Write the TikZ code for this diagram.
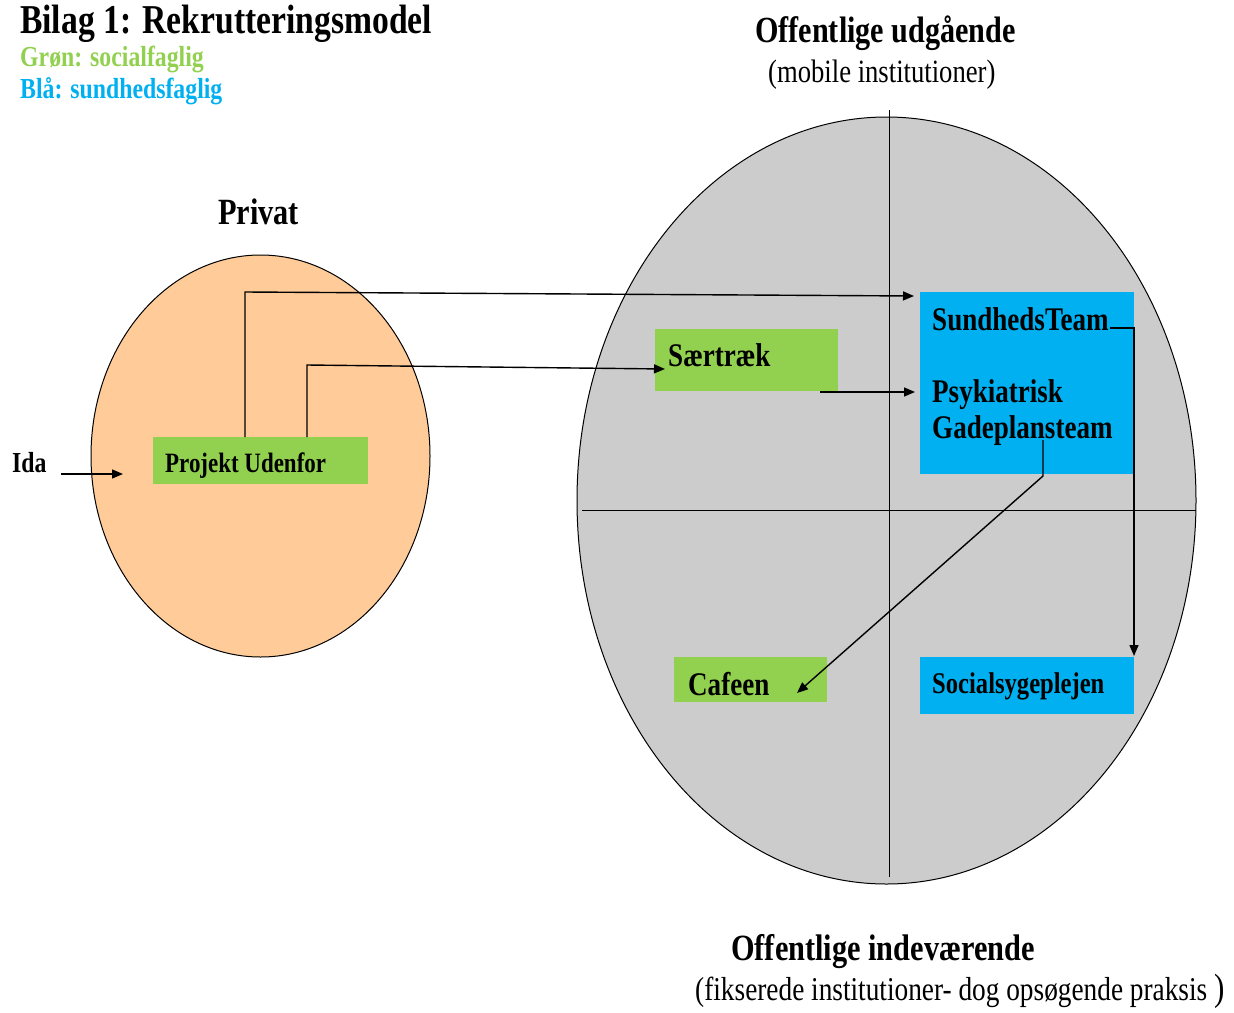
\documentclass[tikz,border=0pt]{standalone}
\usepackage{fontspec}
\setmainfont{Liberation Serif}[FakeStretch=0.82]
\usetikzlibrary{arrows.meta,calc}
\definecolor{grn}{HTML}{92D050}
\definecolor{blu}{HTML}{00B0F0}
\definecolor{org}{HTML}{FFCC99}
\definecolor{gry}{HTML}{CCCCCC}
\tikzset{
  txt/.style={anchor=base west,inner sep=0pt,font=\bfseries\fontsize{#1}{#1}\selectfont},
  rtxt/.style={anchor=base west,inner sep=0pt,font=\fontsize{#1}{#1}\selectfont},
  gbox/.style={fill=grn,draw=none,anchor=north west,inner sep=0pt},
  bbox/.style={fill=blu,draw=none,anchor=north west,inner sep=0pt},
  conn/.style={line width=1.4pt,black},
  arr/.style={conn,-{Triangle[length=11pt,width=9pt]}},
  grid/.style={line width=1pt,black}
}
\begin{document}
\begin{tikzpicture}[x=1pt,y=-1pt]
\useasboundingbox (0,0) rectangle (1234,1012);
% headings
\node[txt=41] (title) at (20,33) {Bilag 1: Rekrutteringsmodel};
\node[txt=29,text=grn] (green) at (20,66) {Grøn: socialfaglig};
\node[txt=29,text=blu] (blue) at (20,98) {Blå: sundhedsfaglig};
\node[txt=36.8] (offu) at (755,42) {Offentlige udgående};
\node[rtxt=32.5] (mob) at (768,82) {(mobile institutioner)};
\node[txt=37] (priv) at (218,224) {Privat};
\node[txt=37] (offi) at (731,960) {Offentlige indeværende};
\node[rtxt=33.3] (fix) at (695,1000) {(fikserede institutioner- dog opsøgende praksis {\fontsize{38}{38}\selectfont)}};
% ellipses
\draw[line width=1pt,fill=org] (260.5,456) ellipse [x radius=169.5,y radius=201];
\draw[line width=1pt,fill=gry] (886.5,500.5) ellipse [x radius=309.5,y radius=383.5];
% quadrant lines
\coordinate (vt) at (889,110);
\coordinate (vb) at (889,877);
\coordinate (hl) at (582,510);
\coordinate (hr) at (1196,510);
\draw[grid] (vt) -- (vb);
\draw[grid] (hl) -- (hr);
% boxes
\node[gbox,minimum width=215,minimum height=47] (pu) at (153,437) {};
\node[gbox,minimum width=183,minimum height=62] (sae) at (655,329) {};
\node[bbox,minimum width=214,minimum height=182] (st) at (920,292) {};
\node[gbox,minimum width=153,minimum height=45] (caf) at (674,657) {};
\node[bbox,minimum width=214,minimum height=57] (ssp) at (920,657) {};
% texts in boxes
\node[txt=28] (putxt) at (165,472) {Projekt Udenfor};
\node[txt=33] (saetxt) at (668,366) {Særtræk};
\node[txt=33] (sttxt) at (932,330) {SundhedsTeam};
\node[txt=33] (psytxt) at (932,402) {Psykiatrisk};
\node[txt=33] (gadtxt) at (932,438) {Gadeplansteam};
\node[txt=33] (caftxt) at (688,695) {Cafeen};
\node[txt=30] (ssptxt) at (932,693) {Socialsygeplejen};
\node[txt=29] (ida) at (12,472) {Ida};
% connectors
\coordinate (idaS) at (61,474);
\coordinate (idaE) at (123,474);
\draw[arr] (idaS) -- (idaE);
\coordinate (p1) at ($(pu.north west)+(92,0)$);
\coordinate (p1b) at (245,292);
\coordinate (p1e) at (914,296);
\draw[arr] (p1) -- (p1b) -- (p1e);
\coordinate (p2) at ($(pu.north west)+(154,0)$);
\coordinate (p2b) at (307,365);
\coordinate (p2e) at (665,369);
\draw[arr] (p2) -- (p2b) -- (p2e);
\coordinate (s1) at (820,392);
\coordinate (s1e) at (915,392);
\draw[arr] (s1) -- (s1e);
\coordinate (t1) at (1110,328);
\coordinate (t1b) at (1134,328);
\coordinate (t1e) at (1134,656);
\draw[arr] (t1) -- (t1b) -- (t1e);
\coordinate (g1) at (1043,440);
\coordinate (g1b) at (1043,476);
\coordinate (g1e) at (797,693);
\draw[arr] (g1) -- (g1b) -- (g1e);
\end{tikzpicture}
\end{document}
